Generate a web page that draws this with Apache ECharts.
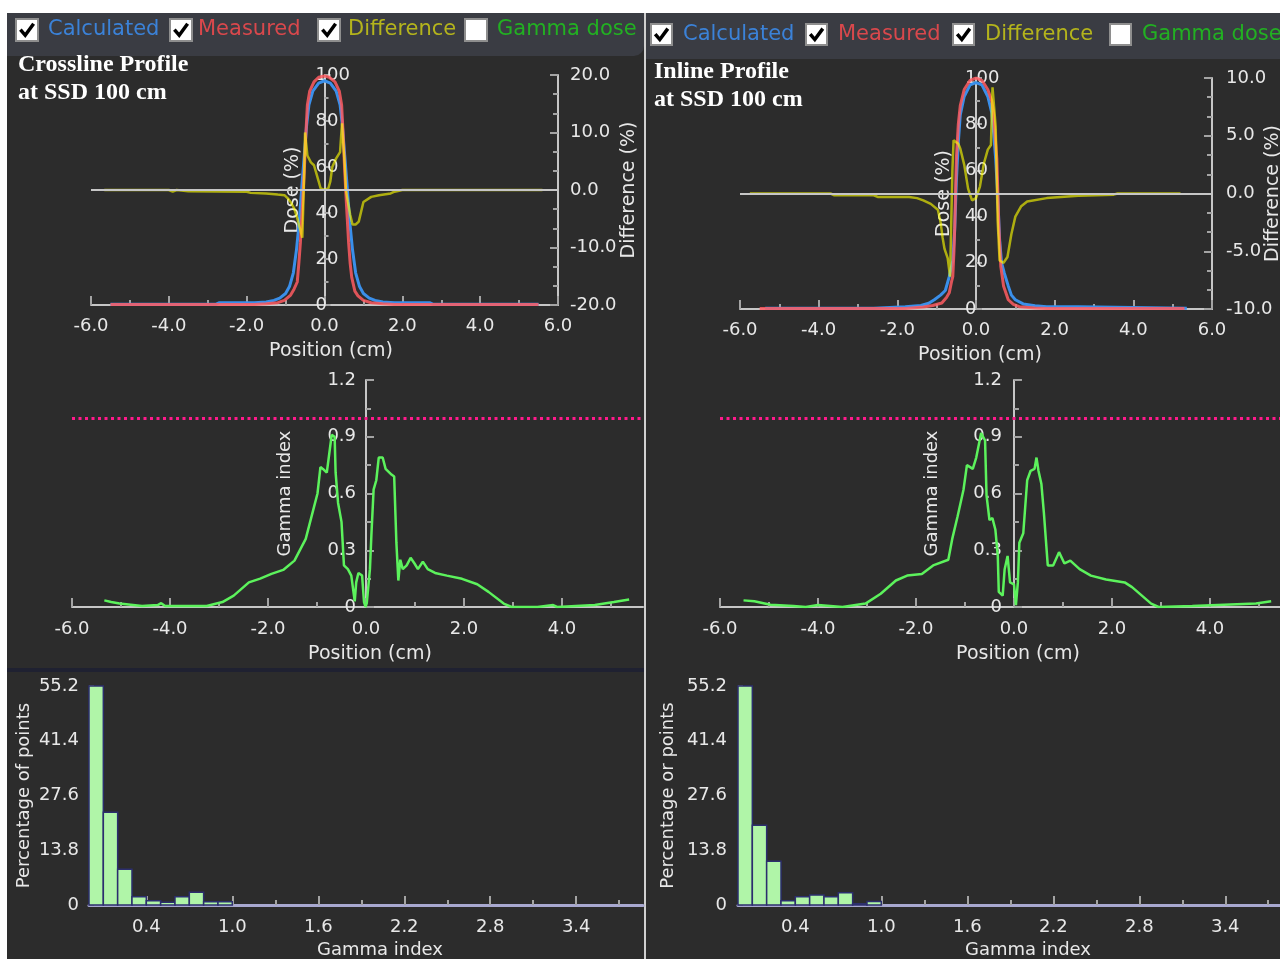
<!DOCTYPE html>
<html><head><meta charset="utf-8">
<script src="https://cdn.jsdelivr.net/npm/echarts@6/dist/echarts.min.js"></script>
<style>
html,body{margin:0;padding:0;background:#fff;}
#wrap{position:relative;width:1280px;height:959px;overflow:hidden;}
.bg{position:absolute;}
#chart{position:absolute;left:0;top:0;width:1280px;height:959px;}
</style></head><body>
<div id="wrap">
 <div class="bg" style="left:7px;top:13px;width:637px;height:946px;background:#2c2c2c"></div>
 <div class="bg" style="left:646px;top:13px;width:634px;height:946px;background:#2c2c2c"></div>
 <div class="bg" style="left:644px;top:13px;width:2px;height:946px;background:#cfcfcf"></div>
 <div class="bg" style="left:7px;top:13px;width:637px;height:43px;background:#3a3c43;border-bottom-right-radius:10px"></div>
 <div class="bg" style="left:646px;top:13px;width:634px;height:46px;background:#3a3c43"></div>
 <div class="bg" style="left:7px;top:668px;width:637px;height:4px;background:#1f2131"></div>
 <div id="chart"></div>
</div>
<script>
// ---------------- DATA ----------------
// Crossline profile (left panel): [position cm, dose %]
const crossCalculated = [[-5.5,0.3],[-2.8,0.3],[-2.7,1.0],[-1.8,1.0],[-1.5,1.3],[-1.3,2],[-1.15,3],[-1.0,5],[-0.9,8],[-0.8,14],[-0.72,24],[-0.65,36],[-0.58,52],[-0.52,65],[-0.46,78],[-0.4,87],[-0.3,93],[-0.15,96.5],[0,97.5],[0.15,96.5],[0.3,93],[0.4,87],[0.46,78],[0.52,65],[0.58,52],[0.65,36],[0.72,24],[0.8,14],[0.9,8],[1.0,5],[1.15,3],[1.3,2],[1.5,1.3],[1.8,1.0],[2.7,1.0],[2.8,0.3],[5.5,0.3]];
const crossMeasured = [[-5.5,0.2],[-1.8,0.2],[-1.5,0.5],[-1.2,1.0],[-1.03,2],[-0.87,4.3],[-0.78,7],[-0.7,10],[-0.66,18],[-0.62,27],[-0.57,42],[-0.52,58],[-0.48,74],[-0.44,87],[-0.38,93],[-0.27,97],[-0.15,99],[0,99.6],[0.12,99],[0.27,97],[0.38,93],[0.44,87],[0.48,74],[0.52,58],[0.57,42],[0.62,27],[0.66,18],[0.7,12],[0.78,6],[0.86,4],[1.0,2],[1.2,1],[1.5,0.5],[1.8,0.2],[5.5,0.2]];
// [position cm, difference %]
const crossDifference = [[-5.66,0],[-4.0,0],[-3.9,-0.3],[-3.8,0],[-3.5,-0.2],[-2.0,-0.3],[-1.9,-0.5],[-1.5,-0.6],[-1.2,-0.8],[-1.03,-0.9],[-0.95,-1.4],[-0.87,-2.1],[-0.78,-3.2],[-0.7,-4.9],[-0.62,-7],[-0.57,-8.3],[-0.54,-8.3],[-0.52,3],[-0.5,10],[-0.47,8],[-0.44,6],[-0.35,4.8],[-0.27,4.3],[-0.15,1.5],[-0.1,0.3],[0,0],[0.1,0.3],[0.15,1.5],[0.2,4],[0.3,5.5],[0.4,6.6],[0.45,11.6],[0.5,11.6],[0.52,4.3],[0.55,0],[0.6,-2],[0.66,-4.3],[0.72,-6],[0.8,-6],[0.88,-5.5],[0.95,-3.5],[1.0,-2.1],[1.2,-1.2],[1.4,-0.9],[1.7,-0.6],[1.8,-0.3],[2.0,0],[5.6,0]];
// [position cm, gamma index]
const crossGamma = [[-5.34,0.035],[-5.2,0.026],[-5.03,0.018],[-4.57,0.005],[-4.25,0.01],[-4.18,0.02],[-4.1,0.005],[-3.25,0.005],[-2.93,0.026],[-2.7,0.06],[-2.39,0.13],[-2.16,0.15],[-1.93,0.175],[-1.69,0.196],[-1.46,0.245],[-1.23,0.36],[-1.07,0.52],[-0.99,0.6],[-0.93,0.74],[-0.88,0.73],[-0.8,0.71],[-0.75,0.81],[-0.7,0.91],[-0.64,0.9],[-0.62,0.71],[-0.57,0.55],[-0.5,0.45],[-0.45,0.22],[-0.37,0.2],[-0.3,0.166],[-0.23,0.03],[-0.2,0.13],[-0.155,0.18],[-0.08,0.166],[-0.04,0.026],[-0.01,0],[0.016,0.02],[0.08,0.2],[0.11,0.38],[0.155,0.62],[0.21,0.67],[0.26,0.79],[0.34,0.79],[0.4,0.73],[0.52,0.7],[0.575,0.69],[0.62,0.34],[0.66,0.14],[0.7,0.25],[0.75,0.2],[0.83,0.22],[0.91,0.26],[0.99,0.23],[1.06,0.2],[1.16,0.24],[1.26,0.2],[1.41,0.18],[1.65,0.166],[1.96,0.149],[2.27,0.12],[2.5,0.08],[2.81,0.018],[2.97,0],[3.5,0],[3.82,0.01],[3.9,0],[4.67,0.01],[5.06,0.026],[5.37,0.04]];

// Inline profile (right panel)
const inlineCalculated = [[-5.36,0.3],[-2.6,0.3],[-2.55,1.0],[-1.8,1.0],[-1.4,1.5],[-1.2,2.5],[-1.06,4],[-0.9,6],[-0.78,8],[-0.68,14],[-0.59,21],[-0.54,35],[-0.5,55],[-0.45,72],[-0.4,84],[-0.3,92],[-0.15,97],[0,98],[0.15,97],[0.3,92],[0.4,85],[0.45,76],[0.5,65],[0.55,50],[0.6,30],[0.65,20],[0.72,15.5],[0.82,10],[0.9,6],[1.0,4],[1.2,2.2],[1.5,1.4],[1.8,1.0],[2.6,1.0],[2.65,0.3],[5.36,0.3]];
const inlineMeasured = [[-5.5,0.2],[-1.8,0.2],[-1.34,0.9],[-1.1,1.5],[-0.87,2.6],[-0.75,5],[-0.68,7],[-0.62,12],[-0.59,14],[-0.56,25],[-0.54,36],[-0.5,65],[-0.45,80],[-0.4,88],[-0.3,95],[-0.15,99],[0,100],[0.15,99],[0.3,95],[0.4,90],[0.44,86],[0.5,72],[0.53,65],[0.58,36],[0.63,18.5],[0.7,10],[0.82,4],[0.95,2],[1.1,1],[1.5,0.4],[1.8,0.2],[5.3,0.2]];
const inlineDifference = [[-5.75,0],[-3.7,0],[-3.6,-0.15],[-2.6,-0.15],[-2.5,-0.3],[-1.7,-0.3],[-1.5,-0.4],[-1.34,-0.6],[-1.15,-0.9],[-0.97,-1.4],[-0.9,-2.5],[-0.85,-3.8],[-0.8,-4.8],[-0.72,-5.6],[-0.66,-7.2],[-0.62,-7.2],[-0.6,2],[-0.57,4.6],[-0.45,4.3],[-0.4,3.9],[-0.3,2.5],[-0.2,0.4],[-0.1,-0.6],[0,-0.4],[0.1,0.6],[0.2,2.6],[0.3,3.8],[0.38,4.2],[0.42,9.2],[0.47,9.2],[0.5,5.8],[0.55,-2.3],[0.6,-5.8],[0.7,-6.0],[0.8,-5.5],[0.9,-3.5],[1.0,-2.0],[1.15,-1.1],[1.3,-0.7],[1.8,-0.4],[2.6,-0.2],[3.5,-0.1],[3.6,0],[5.2,0]];
const inlineGamma = [[-5.52,0.035],[-5.3,0.03],[-4.97,0.012],[-4.5,0.005],[-4.25,0],[-4.0,0.01],[-3.5,0],[-3.03,0.018],[-2.72,0.07],[-2.41,0.14],[-2.18,0.166],[-1.88,0.175],[-1.65,0.22],[-1.34,0.25],[-1.26,0.36],[-1.15,0.48],[-1.03,0.62],[-0.96,0.75],[-0.84,0.73],[-0.77,0.79],[-0.67,0.92],[-0.59,0.88],[-0.56,0.59],[-0.5,0.46],[-0.44,0.47],[-0.38,0.41],[-0.33,0.27],[-0.31,0.08],[-0.23,0.06],[-0.19,0.2],[-0.13,0.27],[-0.08,0.13],[0,0.12],[0.04,0.01],[0.08,0.13],[0.11,0.34],[0.19,0.39],[0.27,0.67],[0.34,0.72],[0.42,0.73],[0.46,0.79],[0.5,0.72],[0.56,0.65],[0.61,0.5],[0.69,0.22],[0.8,0.22],[0.92,0.29],[1.03,0.23],[1.15,0.245],[1.34,0.2],[1.57,0.166],[1.88,0.145],[2.26,0.13],[2.41,0.105],[2.8,0.018],[2.95,0],[3.64,0.005],[4.94,0.018],[5.25,0.03]];

// Gamma index histograms: bin starts (width 0.1) and percentage of points
const histBinStart = [0.0,0.1,0.2,0.3,0.4,0.5,0.6,0.7,0.8,0.9];
const histBinWidth = 0.1;
const crossHist  = [55.2,23.4,9.0,2.1,1.1,0.7,2.1,3.2,0.8,0.8];
const inlineHist = [55.2,20.1,11.0,1.1,2.1,2.5,2.1,3.1,0.3,0.9];

// Tick values
const gammaXLabels = [-6,-4,-2,0,2,4];
const gammaXMinor  = [-5,-3,-1,1,3,5];
const histXLabels  = [0.4,1.0,1.6,2.2,2.8,3.4];
const histXMinor   = [0.7,1.3,1.9,2.5,3.1,3.7];
const gammaPassLevel = 1.0;

// ---------------- LAYOUT ----------------
const GRIDS = [
  {left: 91,  top: 75,  width: 467, height: 230},  // crossline profile
  {left: 72,  top: 380, width: 571, height: 227},  // crossline gamma
  {left: 89,  top: 686, width: 554, height: 219},  // crossline histogram
  {left: 740, top: 78,  width: 472, height: 231},  // inline profile
  {left: 720, top: 380, width: 560, height: 227},  // inline gamma
  {left: 738, top: 686, width: 542, height: 219}   // inline histogram
];
// offset that puts a left y axis at x = 0 of its grid
const zeroOffset = (g, min, max) => -((0 - min) / (max - min)) * GRIDS[g].width;

// ---------------- STYLE ----------------
const FONT = '"DejaVu Sans", sans-serif';
const AXC = '#c6c6c6', TKC = '#a4a4a4', LBC = '#e8e8e8';
const f1 = v => v.toFixed(1);
const f1z = v => Math.abs(v) < 1e-9 ? '0' : v.toFixed(1);
const lbl = o => Object.assign({color: LBC, fontSize: 18, fontFamily: FONT}, o);
const nm = (size, extra) => Object.assign({color: LBC, fontSize: size, fontFamily: FONT}, extra || {});

function profX(g, padL) {
  return {gridIndex: g, type: 'value', min: -6, max: 6, interval: 2, position: 'bottom',
    axisLine: {onZero: false, lineStyle: {color: AXC, width: 2}},
    axisTick: {inside: true, length: 9, lineStyle: {color: TKC, width: 2}},
    minorTick: {show: true, splitNumber: 2, length: 5, lineStyle: {color: TKC, width: 2}},
    splitLine: {show: false}, minorSplitLine: {show: false},
    axisLabel: lbl({margin: 12, formatter: f1}),
    name: 'Position (cm)', nameLocation: 'middle', nameGap: 37, nameMoveOverlap: false,
    nameTextStyle: nm(19, {padding: [0, 0, 0, padL]})};
}
function gammaX(g, max, padL) {
  return {gridIndex: g, type: 'value', min: -6, max: max, position: 'bottom',
    axisLine: {onZero: false, lineStyle: {color: AXC, width: 2}},
    axisTick: {inside: true, length: 9, customValues: gammaXLabels, lineStyle: {color: TKC, width: 2}},
    splitLine: {show: false},
    axisLabel: lbl({margin: 13, formatter: f1, customValues: gammaXLabels}),
    name: 'Position (cm)', nameLocation: 'middle', nameGap: 38, nameMoveOverlap: false,
    nameTextStyle: nm(19, {padding: [0, 0, 0, padL]})};
}
function minorX(g, min, max, vals) {
  return {gridIndex: g, type: 'value', min: min, max: max, position: 'bottom',
    axisLine: {show: false, onZero: false},
    axisTick: {show: true, inside: true, length: 5, customValues: vals, lineStyle: {color: TKC, width: 2}},
    axisLabel: {show: false}, splitLine: {show: false}};
}
function histX(g, max, padL) {
  return {gridIndex: g, type: 'value', min: 0, max: max, position: 'bottom',
    axisLine: {onZero: false, lineStyle: {color: '#a8a8d0', width: 3}},
    axisTick: {inside: true, length: 9, customValues: histXLabels, lineStyle: {color: TKC, width: 2}},
    splitLine: {show: false},
    axisLabel: lbl({margin: 13, formatter: f1, customValues: histXLabels}),
    name: 'Gamma index', nameLocation: 'middle', nameGap: 36, nameMoveOverlap: false,
    nameTextStyle: nm(18, {padding: [0, 0, 0, padL]})};
}
function doseY(g, margin, gap) {
  return {gridIndex: g, type: 'value', min: 0, max: 100, interval: 20, position: 'left',
    offset: zeroOffset(g, -6, 6),
    axisLine: {onZero: false, lineStyle: {color: AXC, width: 2}},
    axisTick: {inside: true, length: 6, lineStyle: {color: TKC, width: 2}},
    minorTick: {show: true, splitNumber: 2, length: 4, lineStyle: {color: TKC, width: 2}},
    splitLine: {show: false}, minorSplitLine: {show: false},
    axisLabel: lbl({margin: margin, align: 'left', padding: [4, 0, 0, 0]}),
    name: 'Dose (%)', nameLocation: 'middle', nameGap: gap, nameRotate: 90, nameMoveOverlap: false,
    nameTextStyle: nm(19)};
}
function diffY(g, max, interval, margin, gap) {
  return {gridIndex: g, type: 'value', min: -max, max: max, interval: interval, position: 'right',
    axisLine: {onZero: false, lineStyle: {color: AXC, width: 2}},
    axisTick: {inside: true, length: 8, lineStyle: {color: TKC, width: 2}},
    minorTick: {show: true, splitNumber: 3, length: 5, lineStyle: {color: TKC, width: 2}},
    splitLine: {show: false}, minorSplitLine: {show: false},
    axisLabel: lbl({margin: margin, formatter: f1, padding: [4, 0, 0, 0]}),
    name: 'Difference (%)', nameLocation: 'middle', nameGap: gap, nameRotate: 90, nameMoveOverlap: false,
    nameTextStyle: nm(19)};
}
function gammaY(g, xmax, margin, gap) {
  return {gridIndex: g, type: 'value', min: 0, max: 1.2, interval: 0.3, position: 'left',
    offset: zeroOffset(g, -6, xmax),
    axisLine: {onZero: false, lineStyle: {color: AXC, width: 2}},
    axisTick: {inside: true, length: 8, lineStyle: {color: TKC, width: 2}},
    minorTick: {show: true, splitNumber: 2, length: 5, lineStyle: {color: TKC, width: 2}},
    splitLine: {show: false}, minorSplitLine: {show: false},
    axisLabel: lbl({margin: margin, formatter: f1z, padding: [8, 0, 0, 0]}),
    name: 'Gamma index', nameLocation: 'middle', nameGap: gap, nameRotate: 90, nameMoveOverlap: false,
    nameTextStyle: nm(18)};
}
function histY(g, margin, gap, title) {
  return {gridIndex: g, type: 'value', min: 0, max: 55.2, interval: 13.8, position: 'left',
    axisLine: {onZero: false, lineStyle: {color: '#8a8a8a', width: 1}},
    axisTick: {inside: true, length: 5, lineStyle: {color: '#8a8a8a', width: 1.5}},
    minorTick: {show: true, splitNumber: 3, length: 4, lineStyle: {color: '#8a8a8a', width: 1.5}},
    splitLine: {show: false}, minorSplitLine: {show: false},
    axisLabel: lbl({margin: margin, formatter: f1z, padding: [6, 0, 0, 0]}),
    name: title, nameLocation: 'middle', nameGap: gap, nameRotate: 90, nameMoveOverlap: false,
    nameTextStyle: nm(18)};
}

const COL_CALC = '#3a8fea', COL_MEAS = '#ff5c62', COL_DIFF = 'rgba(255,255,0,0.62)', COL_GAMMA = '#5cf25c';
function lineSeries(xi, yi, data, color, width, z, extra) {
  return Object.assign({type: 'line', xAxisIndex: xi, yAxisIndex: yi, data: data,
    showSymbol: false, symbol: 'none', silent: true, z: z,
    lineStyle: {color: color, width: width}, itemStyle: {color: color}}, extra || {});
}
const zeroLine = {markLine: {silent: true, symbol: ['none', 'none'], label: {show: false},
  lineStyle: {color: AXC, type: 'solid', width: 2}, data: [{yAxis: 0}]}};
const passLine = {markLine: {silent: true, symbol: ['none', 'none'], label: {show: false},
  lineStyle: {color: '#ff1a8c', type: [3, 3.5], width: 3}, data: [{yAxis: gammaPassLevel}]}};

function histSeries(xi, yi, values) {
  return {type: 'custom', xAxisIndex: xi, yAxisIndex: yi, silent: true, z: 3,
    data: histBinStart.map((b, i) => [b, b + histBinWidth, values[i]]),
    encode: {x: [0, 1], y: 2},
    renderItem: function (params, api) {
      const p0 = api.coord([api.value(0), api.value(2)]);
      const p1 = api.coord([api.value(1), 0]);
      return {type: 'rect', shape: {x: p0[0], y: p0[1], width: p1[0] - p0[0], height: p1[1] - p0[1]},
        style: {fill: '#b0f5a8', stroke: '#2c2e6e', lineWidth: 1.5}};
    }};
}

// ---------------- HEADER GRAPHICS ----------------
const headerNames = ['Calculated', 'Measured', 'Difference', 'Gamma dose'];
const headerColors = ['#3b82d8', '#d9484c', '#b4b41c', '#22b022'];
const headerChecked = [true, true, true, false];
function header(boxX, textX, boxY, size, textY) {
  const els = [];
  headerNames.forEach((n, i) => {
    const x = boxX[i], y = boxY;
    els.push({type: 'rect', shape: {x: x, y: y, width: size, height: size},
      style: {fill: '#ffffff', stroke: '#8e8e8e', lineWidth: 2}});
    if (headerChecked[i]) {
      els.push({type: 'polyline', shape: {points: [[x + size * 0.2, y + size * 0.48], [x + size * 0.42, y + size * 0.74], [x + size * 0.8, y + size * 0.22]]},
        style: {stroke: '#000000', lineWidth: 3.5, fill: null}});
    }
    els.push({type: 'text', x: textX[i], y: textY,
      style: {text: n, fill: headerColors[i], font: '21px "DejaVu Sans"', verticalAlign: 'middle', align: 'left'}});
  });
  return els;
}
function title(x, y1, y2, t1) {
  const font = 'bold 24px "Liberation Serif", "DejaVu Serif", serif';
  return [
    {type: 'text', x: x, y: y1, style: {text: t1, fill: '#ffffff', font: font, verticalAlign: 'middle'}},
    {type: 'text', x: x, y: y2, style: {text: 'at SSD 100 cm', fill: '#ffffff', font: font, verticalAlign: 'middle'}}
  ];
}
const graphics = [].concat(
  header([16, 170, 318, 465], [48, 198, 348, 497], 19, 22, 30),
  header([651, 806, 953, 1110], [683, 838, 985, 1142], 24, 21, 35),
  title(18, 65, 93, 'Crossline Profile'),
  title(654, 72, 100, 'Inline Profile')
);

// ---------------- OPTION ----------------
const option = {
  backgroundColor: 'transparent',
  animation: false,
  textStyle: {fontFamily: FONT},
  grid: GRIDS.map(g => Object.assign({outerBoundsMode: 'none'}, g)),
  xAxis: [
    profX(0, 13),
    gammaX(1, 5.653, 25),
    minorX(1, -6, 5.653, gammaXMinor),
    histX(2, 3.866, 28),
    minorX(2, 0, 3.866, histXMinor),
    profX(3, 8),
    gammaX(4, 5.43, 36),
    minorX(4, -6, 5.43, gammaXMinor),
    histX(5, 3.782, 38),
    minorX(5, 0, 3.782, histXMinor)
  ],
  yAxis: [
    doseY(0, 9, 22),
    diffY(0, 20, 10, 12, 62),
    gammaY(1, 5.653, 10, 72),
    histY(2, 10, 56, 'Percentage of points'),
    doseY(3, 11, 22),
    diffY(3, 10, 5, 14, 52),
    gammaY(4, 5.43, 12, 73),
    histY(5, 11, 61, 'Percentage or points')
  ],
  graphic: graphics,
  series: [
    lineSeries(0, 0, crossCalculated, COL_CALC, 3, 2),
    lineSeries(0, 0, crossMeasured, COL_MEAS, 3, 3, {lineStyle: {color: COL_MEAS, width: 3, opacity: 0.85}}),
    lineSeries(0, 1, crossDifference, COL_DIFF, 2.5, 4, zeroLine),
    lineSeries(1, 2, crossGamma, COL_GAMMA, 2.5, 3, passLine),
    histSeries(3, 3, crossHist),
    lineSeries(5, 4, inlineCalculated, COL_CALC, 3, 2),
    lineSeries(5, 4, inlineMeasured, COL_MEAS, 3, 3, {lineStyle: {color: COL_MEAS, width: 3, opacity: 0.85}}),
    lineSeries(5, 5, inlineDifference, COL_DIFF, 2.5, 4, zeroLine),
    lineSeries(6, 6, inlineGamma, COL_GAMMA, 2.5, 3, passLine),
    histSeries(8, 7, inlineHist)
  ]
};
const chart = echarts.init(document.getElementById('chart'), null, {renderer: 'canvas', width: 1280, height: 959});
chart.setOption(option);
</script>
</body></html>
